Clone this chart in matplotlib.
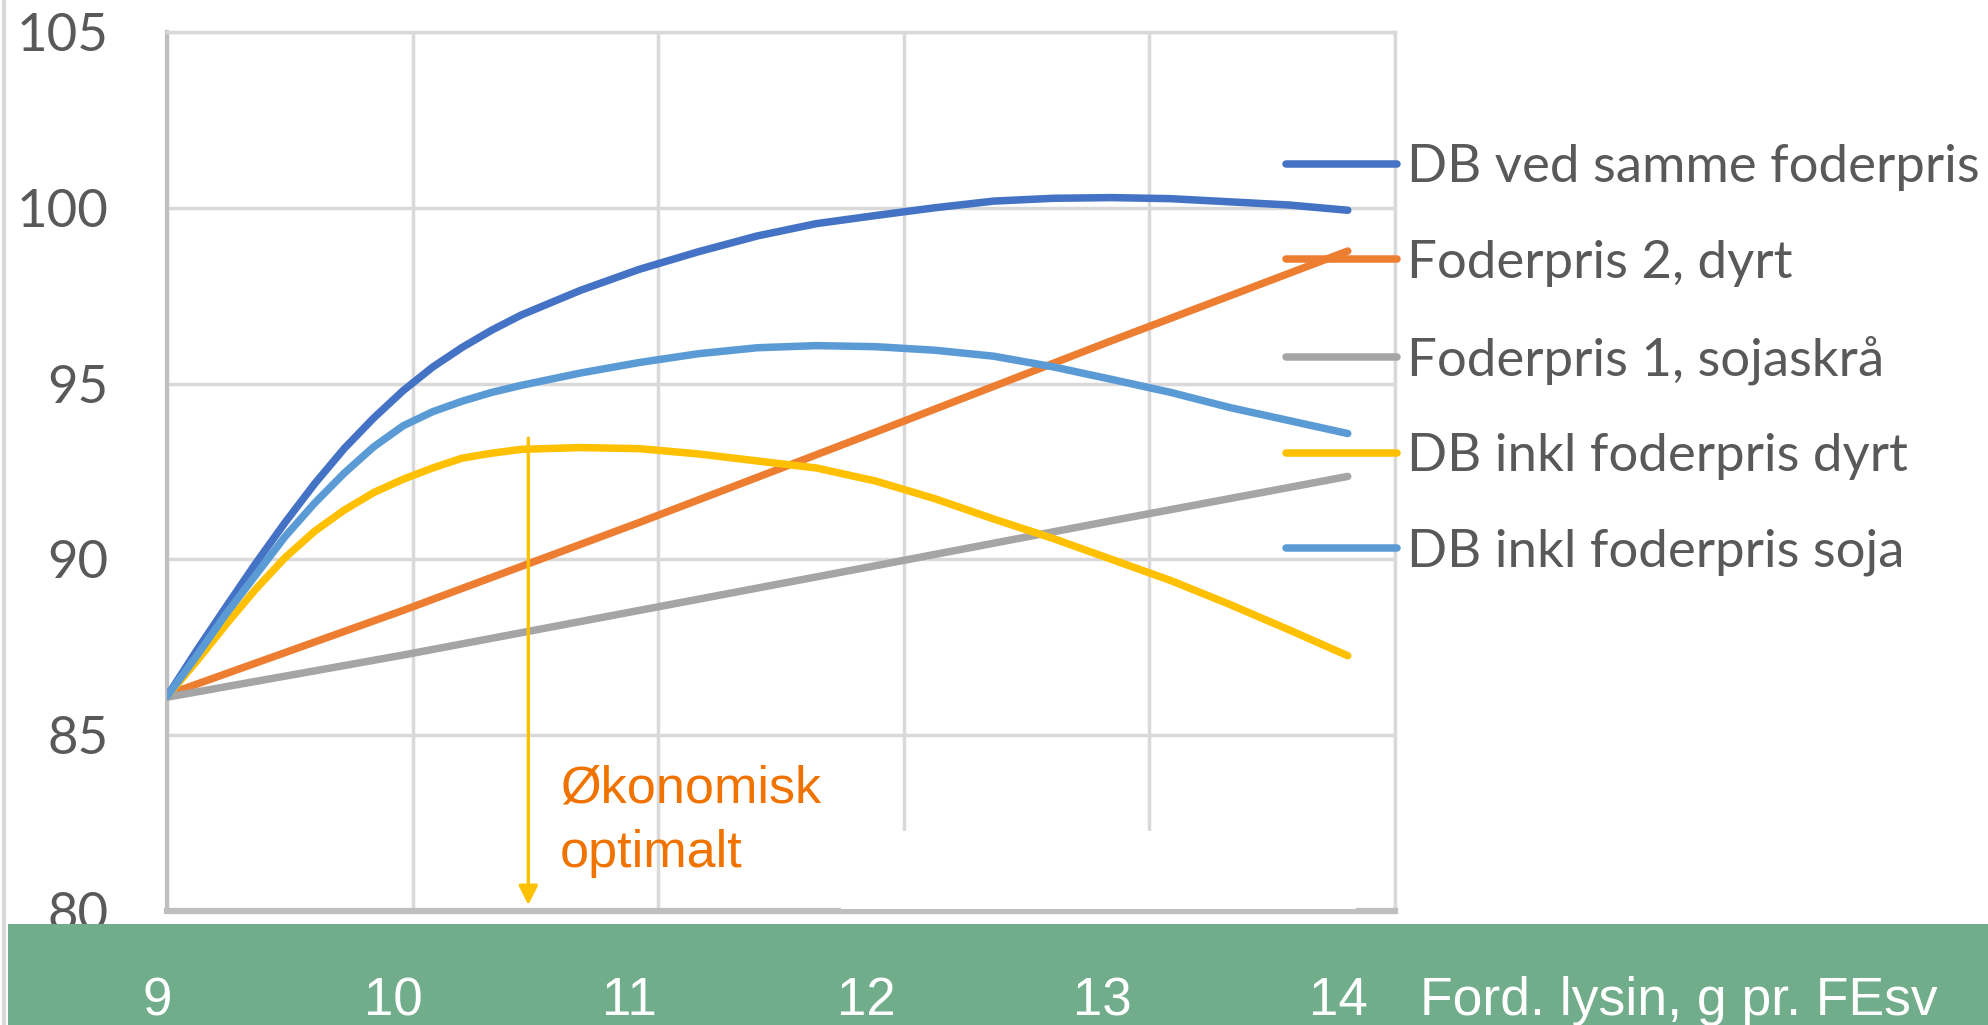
import numpy as np
import matplotlib
matplotlib.use('Agg')
import matplotlib.pyplot as plt
from matplotlib.patches import Rectangle
from matplotlib.lines import Line2D

plt.rcParams['font.family'] = ['Lato', 'DejaVu Sans']

# ----- data -----
# smooth curves: read every 0.125 g up to 10.5, then every 0.25 g
x_fine = [9.0, 9.125, 9.25, 9.375, 9.5, 9.625, 9.75, 9.875, 10.0, 10.125, 10.25, 10.375, 10.5,
          10.75, 11.0, 11.25, 11.5, 11.75, 12.0, 12.25, 12.5, 12.75, 13.0, 13.25, 13.5, 13.75, 14.0]
db_same = [86.1, 87.4, 88.65, 89.88, 91.05, 92.15, 93.15, 94.02, 94.8, 95.47, 96.03, 96.52, 96.95,
           97.65, 98.25, 98.75, 99.2, 99.55, 99.78, 100.0, 100.19, 100.27, 100.29, 100.26, 100.17, 100.08, 99.93]
db_soja = [86.1, 87.25, 88.45, 89.55, 90.65, 91.6, 92.45, 93.2, 93.8, 94.2, 94.5, 94.75, 94.95,
           95.3, 95.6, 95.85, 96.02, 96.08, 96.05, 95.95, 95.78, 95.48, 95.12, 94.75, 94.32, 93.95, 93.58]
db_dyrt = [86.1, 87.1, 88.15, 89.15, 90.05, 90.8, 91.4, 91.9, 92.28, 92.6, 92.88, 93.02, 93.13,
           93.18, 93.15, 93.0, 92.8, 92.6, 92.23, 91.73, 91.15, 90.6, 90.0, 89.4, 88.72, 88.0, 87.26]

# near-straight lines
x_int = [9, 10, 11, 12, 13, 14]
price_dyrt = [86.15, 88.55, 91.05, 93.62, 96.22, 98.77]
price_soja = [86.08, 87.28, 88.55, 89.82, 91.1, 92.36]

series_labels = ['DB ved samme foderpris', 'Foderpris 2, dyrt', 'Foderpris 1, sojaskrå',
                 'DB inkl foderpris dyrt', 'DB inkl foderpris soja']
series_colors = ['#4472C4', '#ED7D31', '#A5A5A5', '#FFC000', '#5B9BD5']

y_ticks = [80, 85, 90, 95, 100, 105]
x_ticks = [9, 10, 11, 12, 13, 14]
x_ticklabels = ['9', '10', '11', '12', '13', '14']
x_title = 'Ford. lysin, g pr. FEsv'

opt_x, opt_top = 10.53, 93.45
opt_text = ['Økonomisk', 'optimalt']

# ----- figure -----
W, H = 1988, 1025
fig = plt.figure(figsize=(W / 100, H / 100), dpi=100)

def fx(px):
    return px / W

def fy(py):
    return 1 - py / H

left, right, top, bottom = 167, 1395, 32, 911
xmin, xmax = 9, 14.2
ax = fig.add_axes([fx(left), fy(bottom), fx(right) - fx(left), fy(top) - fy(bottom)])
ax.set_xlim(xmin, xmax)
ax.set_ylim(80, 105)

xs = [x_fine, x_int, x_int, x_fine, x_fine]
ys = [db_same, price_dyrt, price_soja, db_dyrt, db_soja]
for x, y, lab, col in zip(xs, ys, series_labels, series_colors):
    ax.plot(x, y, color=col, lw=5.4, solid_capstyle='round', solid_joinstyle='round',
            label=lab, zorder=3)

ax.annotate('', xy=(opt_x, 80.17), xytext=(opt_x, opt_top),
            arrowprops=dict(arrowstyle='-|>', color='#FFC000', lw=2.4,
                            mutation_scale=29, shrinkA=0, shrinkB=0), zorder=4)

# grid divides plot into five equal columns
ax.set_xticks(np.linspace(xmin, xmax, 6))
ax.set_xticklabels([])
ax.set_yticks(y_ticks)
ax.tick_params(axis='both', length=0)
ax.tick_params(axis='y', labelsize=38, labelcolor='#595959', pad=42)
ax.grid(True, color='#D9D9D9', lw=2.5)
ax.set_axisbelow(True)
for side in ['top', 'right']:
    ax.spines[side].set_color('#D9D9D9')
    ax.spines[side].set_linewidth(2.5)
ax.spines['left'].set_color('#BFBFBF')
ax.spines['left'].set_linewidth(3)
ax.spines['bottom'].set_color('#BFBFBF')
ax.spines['bottom'].set_linewidth(4.5)

leg = ax.legend(loc='upper left', bbox_to_anchor=(fx(1286), fy(144)),
                bbox_transform=fig.transFigure, frameon=False,
                prop={'family': 'Lato', 'size': 38}, handlelength=2.1,
                handletextpad=0.2, labelspacing=0.92, borderpad=0, borderaxespad=0)
for t in leg.get_texts():
    t.set_color('#595959')

# white patch covering the lower right part of the plot
fig.add_artist(Rectangle((fx(841), fy(909)), fx(1356) - fx(841), fy(831) - fy(909),
                         transform=fig.transFigure, facecolor='white',
                         edgecolor='none', zorder=1))

fig.text(fx(560), fy(802), opt_text[0], family='Liberation Sans', size=37.5,
         color='#F07300', va='baseline', zorder=3)
fig.text(fx(560), fy(867), opt_text[1], family='Liberation Sans', size=37.5,
         color='#F07300', va='baseline', zorder=3)

# green band with x labels
ppu = (right - left) / (xmax - xmin)
axb = fig.add_axes([fx(8), 0, 1 - fx(8), fy(924)])
axb.set_zorder(2)
axb.set_facecolor('#71AD8A')
axb.set_xlim(xmin - (left - 8) / ppu, xmin + (W - left) / ppu)
axb.set_ylim(0, 1)
axb.set_xticks([])
axb.set_yticks([])
for s in axb.spines.values():
    s.set_visible(False)
for xi, lab in zip(x_ticks, x_ticklabels):
    axb.text(xi - 0.04, 0.099, lab, ha='center', va='baseline', color='white',
             family='Liberation Sans', size=38)
axb.text(fx(1420), fy(1015), x_title, transform=fig.transFigure, ha='left',
         va='baseline', color='white', family='Liberation Sans', size=38.5)

fig.add_artist(Line2D([fx(4), fx(4)], [0, 1], color='#D9D9D9', lw=3,
                      transform=fig.transFigure, zorder=3))

fig.savefig('out.png', dpi=100)
